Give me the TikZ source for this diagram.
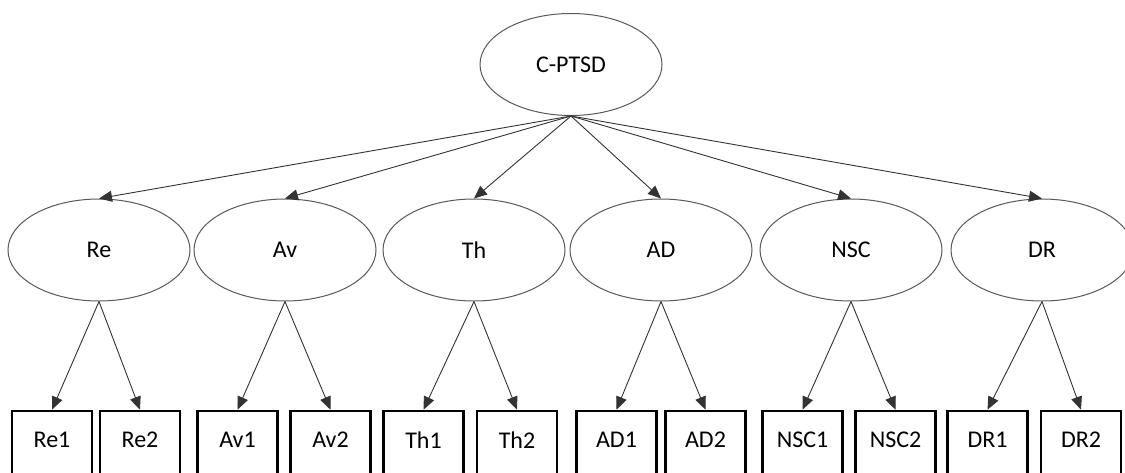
\documentclass[tikz,border=0pt]{standalone}
\usepackage{fontspec}
\setmainfont{Carlito}
\usetikzlibrary{shapes.geometric,arrows.meta}
\begin{document}
\begin{tikzpicture}[x=0.5pt,y=-0.5pt,
  latent/.style={ellipse,draw=black!65,line width=0.5pt,minimum width=91pt,minimum height=51pt,inner sep=0pt,font=\fontsize{12}{14}\selectfont},
  item/.style={rectangle,draw=black,line width=1.3pt,minimum width=40pt,minimum height=40pt,inner sep=0pt},
  itemlabel/.style={inner sep=0pt,font=\fontsize{12}{14}\selectfont},
  link/.style={draw=black!80,line width=0.45pt,-{Triangle[length=6.5pt,width=5.5pt]}}]
\useasboundingbox (0,0) rectangle (1125,472);
\clip (0,0) rectangle (1125,472);
\fill[white] (0,0) rectangle (1125,472);

\node[latent] (top) at (571,64.5) {C-PTSD};

\foreach \n/\t/\x in {re/Re/99,av/Av/285,th/Th/474,ad/AD/661,nsc/NSC/851,dr/DR/1042}{
  \node[latent] (\n) at (\x,250) {\t};
  \draw[link] (top.south) -- (\n.north);
}

\foreach \p/\n/\t/\x in {re/rea/Re1/52,re/reb/Re2/140,av/ava/Av1/237.5,av/avb/Av2/330.5,
  th/tha/Th1/423.5,th/thb/Th2/517,ad/ada/AD1/616.5,ad/adb/AD2/705.5,
  nsc/nsca/NSC1/802.5,nsc/nscb/NSC2/895.5,dr/dra/DR1/987.5,dr/drb/DR2/1081}{
  \node[item] (\n) at (\x,451) {};
  \node[itemlabel] at (\x,440) {\t};
  \draw[link] (\p.south) -- (\n.north);
}
\end{tikzpicture}
\end{document}
